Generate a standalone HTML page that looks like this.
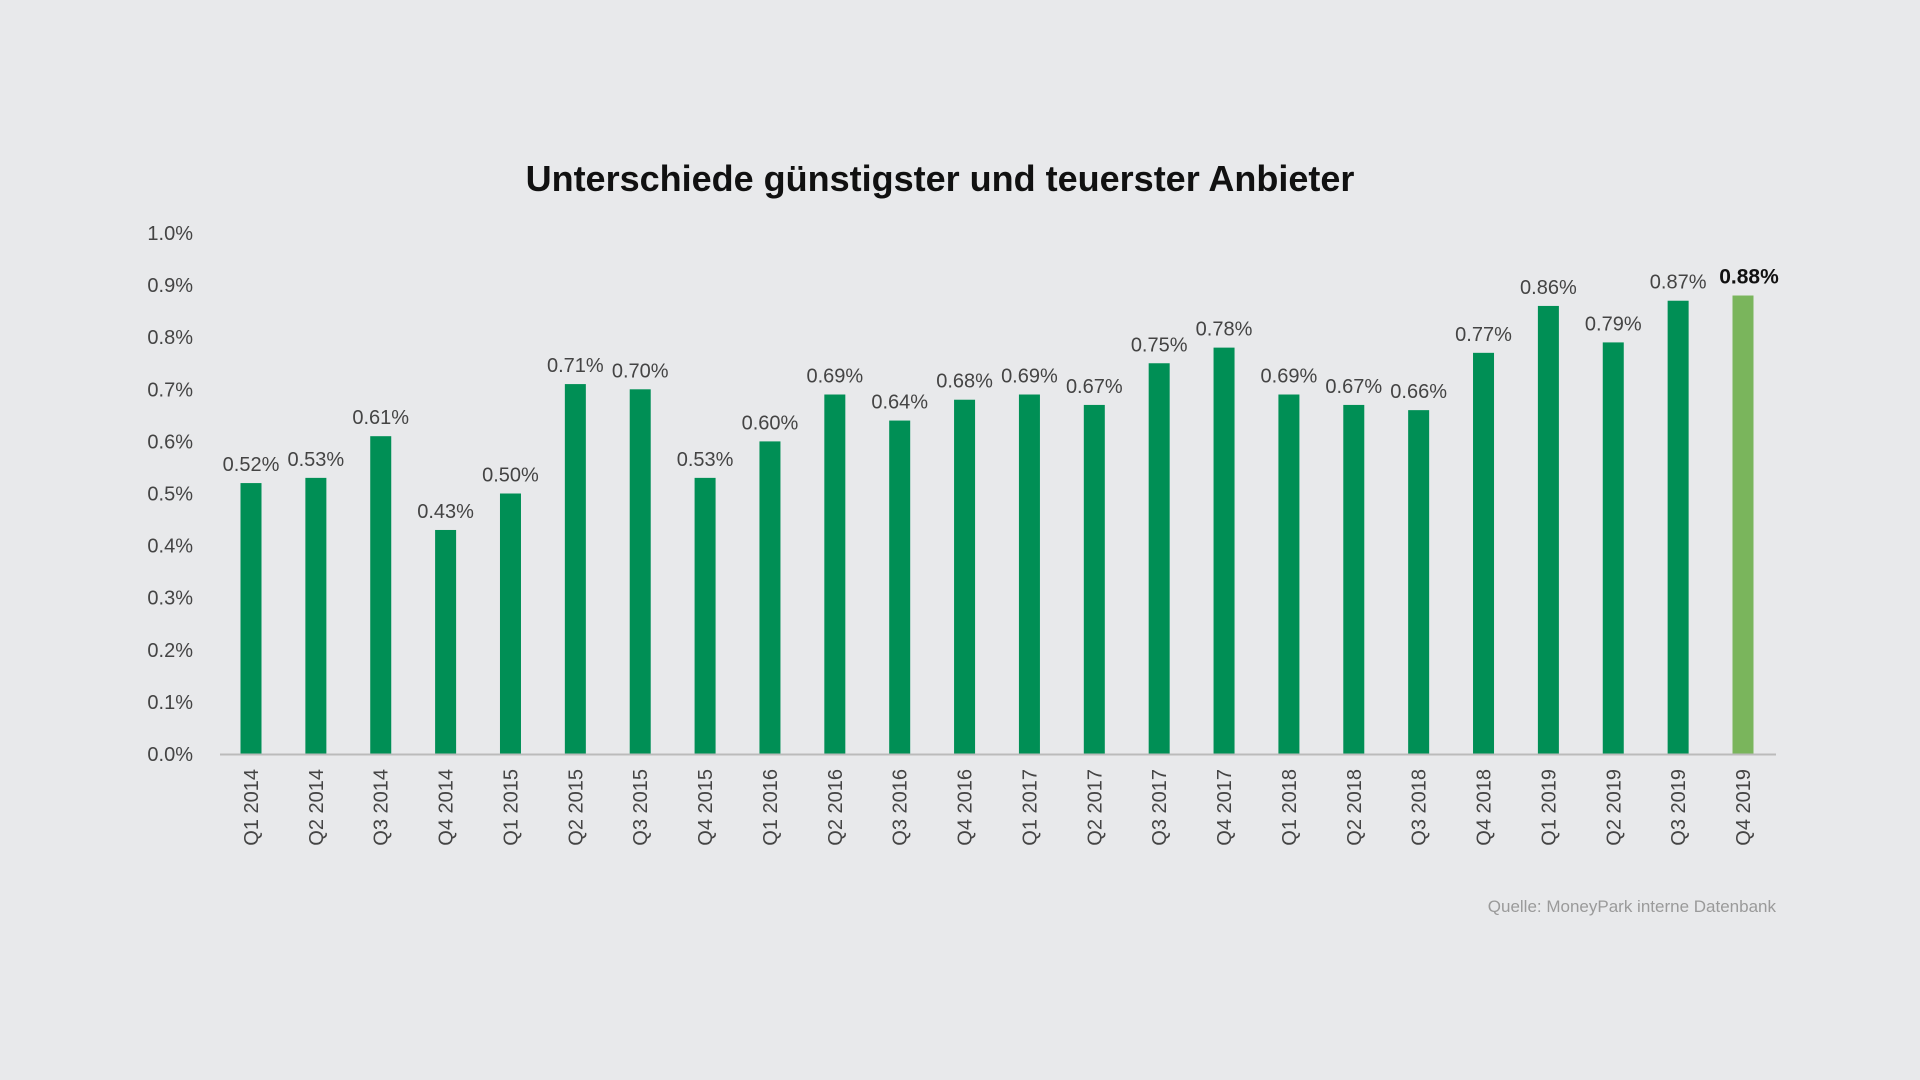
<!DOCTYPE html>
<html><head><meta charset="utf-8">
<style>
html,body{margin:0;padding:0;background:#e8e9eb;}
svg{display:block;font-family:"Liberation Sans",sans-serif;}
</style></head>
<body>
<svg id="chart" width="1920" height="1080" viewBox="0 0 1920 1080">
<rect width="1920" height="1080" fill="#e8e9eb"/>
<text x="940" y="191" text-anchor="middle" font-size="36" font-weight="bold" fill="#111">Unterschiede günstigster und teuerster Anbieter</text>
<text x="1776" y="912" text-anchor="end" font-size="17" fill="#9a9a9a">Quelle: MoneyPark interne Datenbank</text>
<g id="yaxis"></g>
<g id="bars"></g>
<g id="xaxis"></g>
</svg>
<script>
const categories=["Q1 2014","Q2 2014","Q3 2014","Q4 2014","Q1 2015","Q2 2015","Q3 2015","Q4 2015","Q1 2016","Q2 2016","Q3 2016","Q4 2016","Q1 2017","Q2 2017","Q3 2017","Q4 2017","Q1 2018","Q2 2018","Q3 2018","Q4 2018","Q1 2019","Q2 2019","Q3 2019","Q4 2019"];
const values=[0.52,0.53,0.61,0.43,0.50,0.71,0.70,0.53,0.60,0.69,0.64,0.68,0.69,0.67,0.75,0.78,0.69,0.67,0.66,0.77,0.86,0.79,0.87,0.88];
const valueLabels=["0.52%","0.53%","0.61%","0.43%","0.50%","0.71%","0.70%","0.53%","0.60%","0.69%","0.64%","0.68%","0.69%","0.67%","0.75%","0.78%","0.69%","0.67%","0.66%","0.77%","0.86%","0.79%","0.87%","0.88%"];
const yTicks=[0,0.1,0.2,0.3,0.4,0.5,0.6,0.7,0.8,0.9,1.0];
const yTickLabels=["0.0%","0.1%","0.2%","0.3%","0.4%","0.5%","0.6%","0.7%","0.8%","0.9%","1.0%"];
const NS="http://www.w3.org/2000/svg";
const y0=754,y1=233,xFirst=251,step=(1743-251)/23,bw=21;
function yScale(v){return y0-(y0-y1)*v;}
function xScale(i){return xFirst+i*step;}
function mk(tag,attrs,parent){const e=document.createElementNS(NS,tag);for(const k in attrs)e.setAttribute(k,attrs[k]);parent.appendChild(e);return e;}
const ya=document.getElementById('yaxis'),ba=document.getElementById('bars'),xa=document.getElementById('xaxis');
yTicks.forEach((t,i)=>{
  const e=mk('text',{x:193,y:yScale(t)+7,'text-anchor':'end','font-size':20,fill:'#444'},ya);
  e.textContent=yTickLabels[i];
  
  
});
const ax=mk('line',{x1:220,x2:1776,y1:y0+0.5,y2:y0+0.5,stroke:'#bbb','stroke-width':2},xa);


values.forEach((v,i)=>{
  const last=i===values.length-1;
  const cx=xScale(i);
  const r=mk('rect',{x:cx-bw/2,y:yScale(v),width:bw,height:y0-yScale(v),fill:last?'#7ab55c':'#008f55'},ba);
  
  
  const t=mk('text',{x:cx+(last?6:0),y:yScale(v)-12,'text-anchor':'middle','font-size':last?21:20,'font-weight':last?'bold':'normal',fill:last?'#111':'#444'},ba);
  t.textContent=valueLabels[i];
  
  
  const c=mk('text',{x:0,y:0,'text-anchor':'end','font-size':20,fill:'#444',transform:`translate(${cx+7},769) rotate(-90)`},xa);
  c.textContent=categories[i];
  
  
});
</script>
</body></html>
